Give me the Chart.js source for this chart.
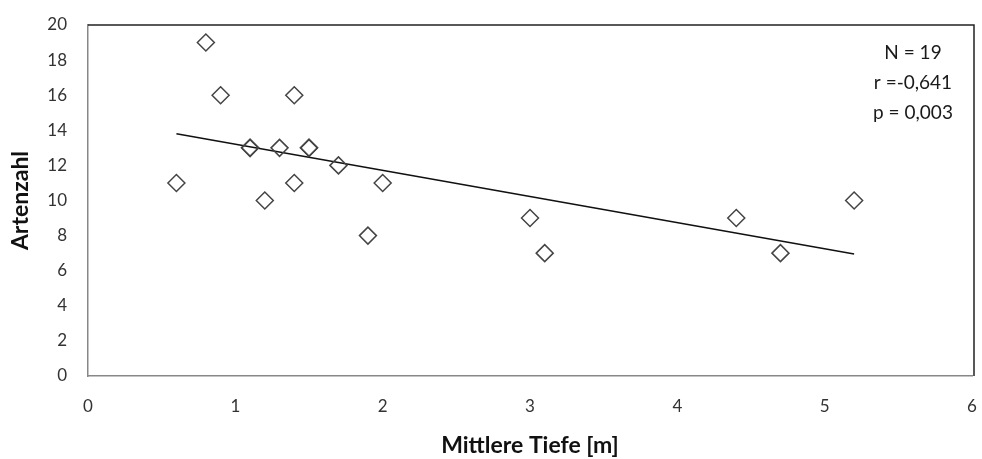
<!DOCTYPE html>
<html>
<head>
<meta charset="utf-8">
<script src="https://cdn.jsdelivr.net/npm/chart.js@4/dist/chart.umd.min.js"></script>
<style>
  html, body { margin: 0; padding: 0; background: #fff; }
  #wrap { width: 982px; height: 459px; position: relative; }
</style>
</head>
<body>
<div id="wrap"><canvas id="chart" width="982" height="459"></canvas></div>
<script>
const tiefe = [0.6, 0.8, 0.9, 1.1, 1.1, 1.2, 1.3, 1.4, 1.4, 1.5, 1.5, 1.7, 1.9, 2.0, 3.0, 3.1, 4.4, 4.7, 5.2];
const artenzahl = [11, 19, 16, 13, 13, 10, 13, 16, 11, 13, 13, 12, 8, 11, 9, 7, 9, 7, 10];

const trendX = [0.6, 5.2];
const trendY = [13.8, 6.95];

const statsText = ["N = 19", "r =-0,641", "p = 0,003"];

const FONT = "Lato, 'Open Sans', sans-serif";

// Textbox mit Statistik oben rechts
const statsBox = {
  id: "statsBox",
  afterDraw(chart) {
    const ctx = chart.ctx;
    ctx.save();
    ctx.font = "19px " + FONT;
    ctx.fillStyle = "#1a1a1a";
    ctx.textAlign = "center";
    ctx.textBaseline = "middle";
    statsText.forEach((t, i) => ctx.fillText(t, 913, 53 + i * 30));
    ctx.restore();
  }
};

// Rahmen oben und rechts
const plotBorder = {
  id: "plotBorder",
  afterDatasetsDraw(chart) {
    const a = chart.chartArea;
    const ctx = chart.ctx;
    ctx.save();
    ctx.strokeStyle = "#222";
    ctx.lineWidth = 1.5;
    ctx.beginPath();
    ctx.moveTo(a.left, a.top);
    ctx.lineTo(a.right + 2, a.top);
    ctx.lineTo(a.right + 2, a.bottom);
    ctx.stroke();
    ctx.restore();
  }
};

const ctx = document.getElementById("chart").getContext("2d");
new Chart(ctx, {
  type: "scatter",
  data: {
    datasets: [
      {
        label: "Artenzahl",
        data: tiefe.map((x, i) => ({ x: x, y: artenzahl[i] })),
        pointStyle: "rectRot",
        pointRadius: 8.5,
        pointHoverRadius: 8.5,
        pointBackgroundColor: "rgba(255,255,255,0)",
        pointBorderColor: "#444",
        pointBorderWidth: 1.5
      },
      {
        label: "Trend",
        type: "line",
        data: trendX.map((x, i) => ({ x: x, y: trendY[i] })),
        borderColor: "#111",
        borderWidth: 1.6,
        pointRadius: 0,
        fill: false
      }
    ]
  },
  options: {
    responsive: false,
    animation: false,
    layout: { padding: { left: 0, right: 10, top: 25, bottom: 0 } },
    plugins: {
      legend: { display: false },
      tooltip: { enabled: false }
    },
    scales: {
      x: {
        type: "linear",
        min: 0,
        max: 6,
        ticks: { stepSize: 1, color: "#333", font: { size: 17, family: FONT }, padding: 12 },
        grid: { display: false, drawTicks: true, tickLength: 8, tickColor: "#888" },
        border: { display: true, color: "#888", width: 1.5 },
        title: {
          display: true,
          text: "Mittlere Tiefe [m]",
          color: "#111",
          font: { size: 23, weight: "bold", family: FONT },
          padding: { top: 0, bottom: 0 }
        },
        afterFit(scale) {
          scale.height = 459 - 376;
          scale.paddingRight = 0;
          scale.paddingLeft = 0;
        }
      },
      y: {
        min: 0,
        max: 20,
        ticks: { stepSize: 2, color: "#333", font: { size: 17, family: FONT }, padding: 12 },
        grid: { display: false, drawTicks: true, tickLength: 9, tickColor: "#888" },
        border: { display: true, color: "#888", width: 1.5 },
        title: {
          display: true,
          text: "Artenzahl",
          color: "#111",
          font: { size: 23, weight: "bold", family: FONT },
          padding: { top: 7, bottom: 0 }
        },
        afterFit(scale) { scale.width = 88; }
      }
    }
  },
  plugins: [statsBox, plotBorder]
});
</script>
</body>
</html>
